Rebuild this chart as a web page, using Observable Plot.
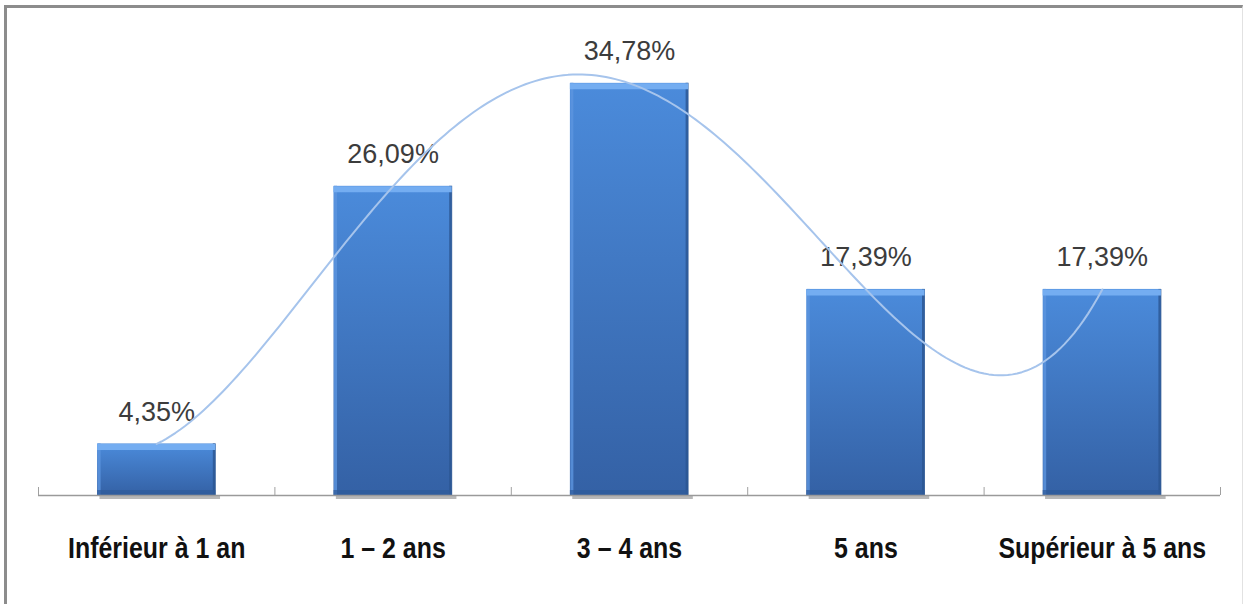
<!DOCTYPE html>
<html><head><meta charset="utf-8">
<script src="https://cdn.jsdelivr.net/npm/d3@7"></script>
<script src="https://cdn.jsdelivr.net/npm/@observablehq/plot@0.6"></script>
<style>
html,body{margin:0;padding:0;background:#fff;}
#wrap{position:relative;width:1248px;height:604px;overflow:hidden;}
#frame{position:absolute;left:4px;top:5px;width:1239px;height:640px;border-top:3px solid #8c8c8c;border-left:3px solid #8c8c8c;border-right:1px solid #e2e2e2;box-sizing:border-box;}
#chart{position:absolute;left:0;top:0;}
</style></head><body><div id="wrap"><div id="frame"></div><div id="chart"></div></div>
<script>
// ---- data ----
const categories = ["Inférieur à 1 an", "1 – 2 ans", "3 – 4 ans", "5 ans", "Supérieur à 5 ans"];
const values = [4.35, 26.09, 34.78, 17.39, 17.39];
const valueLabels = ["4,35%", "26,09%", "34,78%", "17,39%", "17,39%"];
const boundaries = [-0.5, 0.5, 1.5, 2.5, 3.5, 4.5];

const data = categories.map((c, i) => ({i, cat: c, v: values[i], label: valueLabels[i]}));

// polynomial trendline (order 4) through the data, as in the original spreadsheet
function trend(x) {
  let s = 0;
  for (let i = 0; i < values.length; i++) {
    let L = 1;
    for (let j = 0; j < values.length; j++) if (j !== i) L *= (x - j) / (i - j);
    s += L * values[i];
  }
  return s;
}
const trendPts = d3.range(0, 4.0001, 0.02).map(x => ({x, y: trend(x)}));

const pxPerUnit = 11.85;
const hw = 0.25;
const BAR = "#3f78c5";

const plot = Plot.plot({
  width: 1248,
  height: 604,
  marginTop: 18,
  marginBottom: 109,
  marginLeft: 0,
  marginRight: 0,
  style: {background: "transparent", overflow: "visible"},
  x: {type: "linear", domain: [-0.5, 4.5], range: [38, 1220], axis: null},
  y: {domain: [0, 40], range: [495, 495 - 40 * pxPerUnit], axis: null},
  marks: [
    // shadow under bars
    Plot.ruleY(data, {x1: d => d.i - hw + 0.01, x2: d => d.i + hw + 0.02, y: 0, dy: 2, stroke: "#b8b8b8", strokeWidth: 3}),
    Plot.rect(data, {x1: d => d.i - hw, x2: d => d.i + hw, y1: 0, y2: "v", fill: BAR}),
    // bevel edges
    Plot.ruleX(data, {x: d => d.i - hw, y1: 0, y2: "v", dx: 1.5, stroke: "#5d95de", strokeWidth: 3, strokeOpacity: 0.8}),
    Plot.ruleX(data, {x: d => d.i + hw, y1: 0, y2: "v", dx: -1.5, stroke: "#2b5591", strokeWidth: 3, strokeOpacity: 0.8}),
    Plot.ruleY(data, {x1: d => d.i - hw, x2: d => d.i + hw, y: 0, dy: -3, stroke: "#2f5b9a", strokeWidth: 5, strokeOpacity: 0.7}),
    Plot.ruleY(data, {x1: d => d.i - hw, x2: d => d.i + hw, y: "v", dy: 3, stroke: "#74adf1", strokeWidth: 6}),
    // axis
    Plot.ruleY([0], {x1: -0.5, x2: 4.5, stroke: "#9a9a9a", strokeWidth: 1.5}),
    Plot.ruleX(boundaries, {x: d => d, y1: 0, y2: 8 / pxPerUnit, stroke: "#a0a0a0", strokeWidth: 1}),
    // value labels
    Plot.text(data, {x: "i", y: "v", text: "label", dy: -23, lineAnchor: "bottom", fontSize: 27, fill: "#3c3c3c", fontFamily: "Liberation Sans, Arial, sans-serif"}),
    // trendline
    Plot.line(trendPts, {x: "x", y: "y", stroke: "#a6c4ec", strokeWidth: 2}),
    // category labels
    Plot.text(data, {x: "i", y: 0, text: "cat", dy: 62, lineAnchor: "bottom", fontSize: 29, fontWeight: "bold", fill: "#111", fontFamily: "Liberation Sans, Arial, sans-serif"})
  ]
});

// gradient fill for the bars
const svg = d3.select(plot);
const defs = svg.insert("defs", ":first-child");
const g = defs.append("linearGradient").attr("id", "barGrad").attr("x1", 0).attr("y1", 0).attr("x2", 0).attr("y2", 1);
g.append("stop").attr("offset", "0%").attr("stop-color", "#4b8bdb");
g.append("stop").attr("offset", "100%").attr("stop-color", "#3461a5");
svg.selectAll("g").filter(function () { return this.getAttribute("fill") === BAR; })
  .attr("fill", "url(#barGrad)")
  .selectAll("rect").attr("fill", null);

// condensed look for the category labels
svg.selectAll("g").filter(function () { return this.getAttribute("font-weight") === "bold"; })
  .selectAll("text").each(function () {
    const t = this.getAttribute("transform") || "";
    const x = +(this.getAttribute("x") || 0), y = +(this.getAttribute("y") || 0);
    this.removeAttribute("x"); this.removeAttribute("y");
    this.setAttribute("transform", `${t} translate(${x},${y}) scale(0.86,1)`);
  });

document.getElementById("chart").appendChild(plot);
</script>
</body></html>
